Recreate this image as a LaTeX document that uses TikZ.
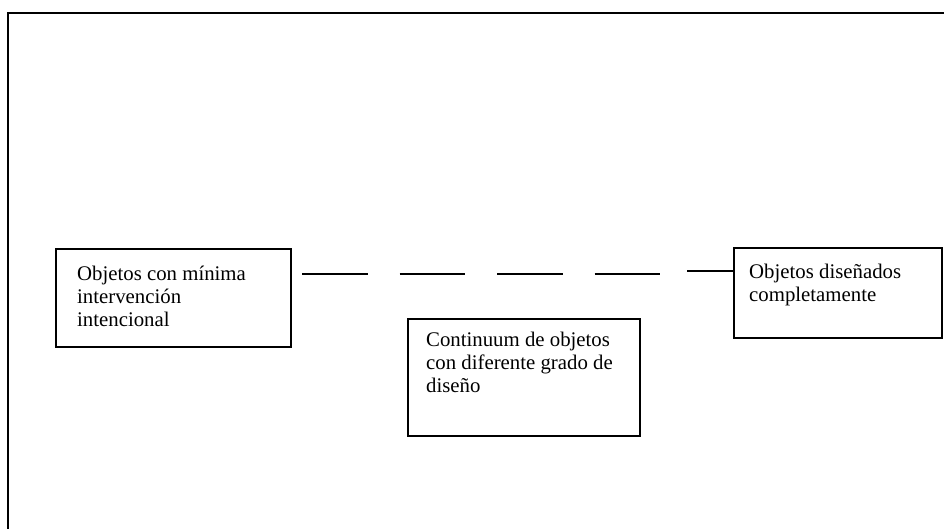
\documentclass[tikz,border=0pt]{standalone}
\usepackage{fontspec}
\setmainfont{Liberation Serif}
\begin{document}
\begin{tikzpicture}[x=1pt,y=-1pt,
  box/.style={draw,line width=1.5pt,inner sep=0pt,anchor=north west},
  lbl/.style={anchor=base west,inner sep=0pt,align=left,font=\fontsize{20.8}{23}\selectfont},
  conn/.style={line width=1.5pt}]
\useasboundingbox (0,0) rectangle (944,529);
\clip (0,0) rectangle (944,529);
\draw[line width=2pt] (8,13.5) rectangle (970,560);
\node[box,minimum width=235pt,minimum height=98pt] (lbox) at (55,248) {};
\node[box,minimum width=208pt,minimum height=90pt] (rbox) at (733,247) {};
\node[box,minimum width=232pt,minimum height=117pt] (mbox) at (407,318) {};
\node[lbl] (ltext) at (77,326) {Objetos con mínima\\intervención\\intencional};
\node[lbl] (rtext) at (749,301) {Objetos diseñados\\completamente};
\node[lbl] (mtext) at (426,392.5) {Continuum de objetos\\con diferente grado de\\diseño};
\coordinate (d1) at (302,274);
\coordinate (d2) at (661,274);
\coordinate (d3) at (687,271);
\draw[conn,dash pattern=on 65.5pt off 32pt] (d1) -- (d2);
\draw[conn] (d3) -- (d3 -| rbox.west);
\end{tikzpicture}
\end{document}
